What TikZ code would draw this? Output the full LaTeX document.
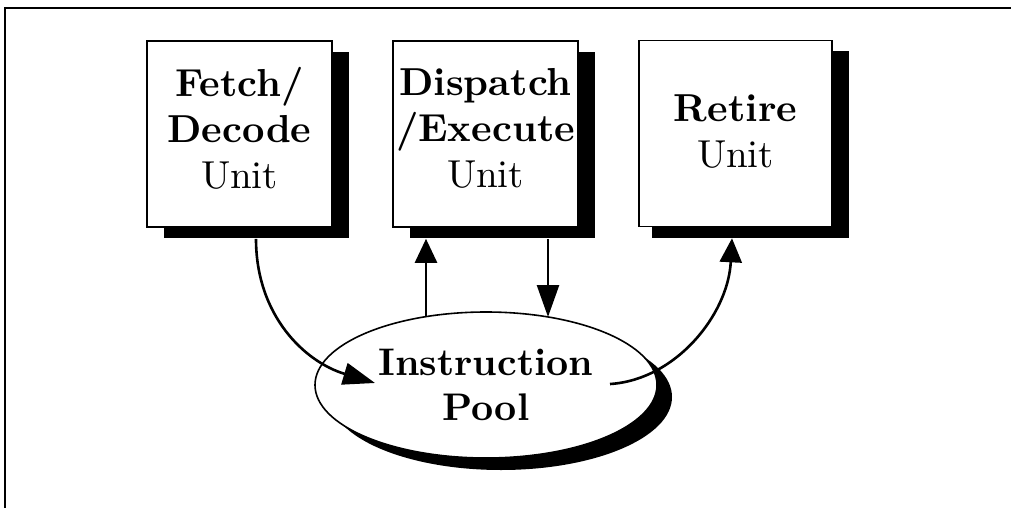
\documentclass[tikz,border=0pt]{standalone}
\usepackage{fontspec}
\setmainfont{lmroman10-regular.otf}[BoldFont=lmroman10-bold.otf]
\usetikzlibrary{shapes.geometric,shadows,arrows.meta}
\begin{document}
\begin{tikzpicture}[x=1pt,y=-1pt,
  box/.style={draw, line width=1.6pt, fill=white, minimum width=185pt, minimum height=186pt,
    inner sep=0pt, align=center, font=\fontsize{39}{46}\selectfont,
    general shadow={fill=black, shadow xshift=17pt, shadow yshift=-11pt}},
  pool/.style={ellipse, draw, line width=1.6pt, fill=white, minimum width=342pt, minimum height=146pt,
    inner sep=0pt, align=center, font=\fontsize{38.5}{45}\selectfont\bfseries,
    general shadow={fill=black, shadow xshift=15pt, shadow yshift=-12pt}},
  flow/.style={line width=2.6pt},
  tip/.style={-{Triangle[length=24pt,width=22pt]}},
  longtip/.style={-{Triangle[length=32pt,width=22pt]}},
  frame/.style={line width=1.8pt}]
\useasboundingbox (0,0) rectangle (1011,508);
\coordinate (ftl) at (5,8);
\coordinate (ftr) at (1011,8);
\coordinate (fbl) at (5,508);
\draw[frame] (ftr) -- (ftl) -- (fbl);

\node[box] (f) at (239.5,134) {\textbf{Fetch/}\\\textbf{Decode}\\Unit\rule[-12pt]{0pt}{12pt}};
\node[box] (d) at (485.5,134) {\textbf{Dispatch}\\\textbf{/Execute}\\Unit\rule[-12pt]{0pt}{12pt}};
\node[box, minimum width=193pt, general shadow={fill=black, shadow xshift=13pt, shadow yshift=-11pt}] (r) at (735.5,133.5) {\textbf{Retire}\\Unit\rule[-4pt]{0pt}{4pt}};
\node[pool] (p) at (486,385) {Instruction\\Pool};

\draw[flow,longtip] ([xshift=16.5pt,yshift=-11pt]f.south) .. controls +(0,77) and +(-70,-21) .. ([xshift=-111pt,yshift=2pt]p.center);
\draw[flow,tip] ([xshift=-60pt,yshift=68.4pt]p.center) -- ([xshift=-59.5pt,yshift=-11pt]d.south);
\draw[flow,longtip] ([xshift=62.5pt,yshift=-11pt]d.south) -- ([xshift=62pt,yshift=68pt]p.center);
\draw[flow,tip] ([xshift=124pt,yshift=1pt]p.center) .. controls +(65,-4) and +(-4,77) .. ([xshift=-3.5pt,yshift=-11pt]r.south);
\end{tikzpicture}
\end{document}
